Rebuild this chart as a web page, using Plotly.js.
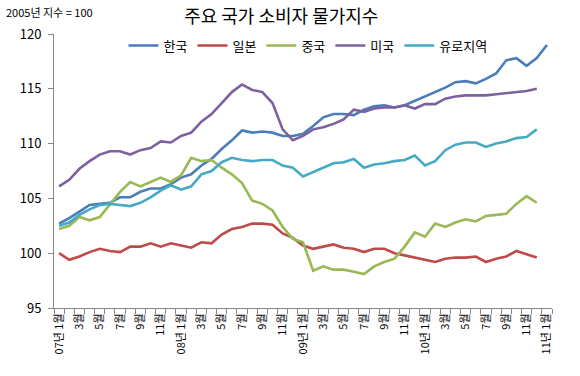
<!DOCTYPE html>
<html>
<head>
<meta charset="utf-8">
<script src="https://cdn.plot.ly/plotly-3.0.1.min.js"></script>
<style>html,body{margin:0;padding:0;background:#fff;}#chart{width:580px;height:376px;}</style>
</head>
<body>
<div id="chart"></div>
<script>
// Categories: monthly, 2007-01 .. 2011-01
const categories = [
  "2007-01","2007-02","2007-03","2007-04","2007-05","2007-06","2007-07","2007-08","2007-09","2007-10","2007-11","2007-12",
  "2008-01","2008-02","2008-03","2008-04","2008-05","2008-06","2008-07","2008-08","2008-09","2008-10","2008-11","2008-12",
  "2009-01","2009-02","2009-03","2009-04","2009-05","2009-06","2009-07","2009-08","2009-09","2009-10","2009-11","2009-12",
  "2010-01","2010-02","2010-03","2010-04","2010-05","2010-06","2010-07","2010-08","2010-09","2010-10","2010-11","2010-12",
  "2011-01"
];
const tickLabels = [
  "07년 1월","","3월","","5월","","7월","","9월","","11월","",
  "08년 1월","","3월","","5월","","7월","","9월","","11월","",
  "09년 1월","","3월","","5월","","7월","","9월","","11월","",
  "10년 1월","","3월","","5월","","7월","","9월","","11월","",
  "11년 1월"
];
const korea = [
  102.7,103.2,103.8,104.4,104.5,104.6,105.1,105.1,105.6,105.9,105.9,106.3,
  106.9,107.2,108.0,108.6,109.5,110.3,111.2,111.0,111.1,111.0,110.7,110.7,
  110.9,111.6,112.4,112.7,112.7,112.6,113.1,113.4,113.5,113.3,113.5,113.9,
  114.3,114.7,115.1,115.6,115.7,115.5,115.9,116.4,117.6,117.8,117.1,117.8,
  119.0
];
const japan = [
  100.0,99.4,99.7,100.1,100.4,100.2,100.1,100.6,100.6,100.9,100.6,100.9,
  100.7,100.5,101.0,100.9,101.7,102.2,102.4,102.7,102.7,102.6,101.8,101.4,
  100.7,100.4,100.6,100.8,100.5,100.4,100.1,100.4,100.4,100.0,99.8,99.6,
  99.4,99.2,99.5,99.6,99.6,99.7,99.2,99.5,99.7,100.2,99.9,99.6,
  null
];
const china = [
  102.2,102.5,103.3,103.0,103.3,104.5,105.6,106.5,106.1,106.5,106.9,106.5,
  107.1,108.7,108.4,108.5,107.8,107.2,106.4,104.8,104.5,103.9,102.4,101.3,
  101.0,98.4,98.8,98.5,98.5,98.3,98.1,98.8,99.2,99.5,100.6,101.9,
  101.5,102.7,102.4,102.8,103.1,102.9,103.4,103.5,103.6,104.5,105.2,104.6,
  null
];
const usa = [
  106.1,106.7,107.7,108.4,109.0,109.3,109.3,109.0,109.4,109.6,110.2,110.1,
  110.7,111.0,112.0,112.7,113.7,114.7,115.4,114.9,114.7,113.7,111.3,110.3,
  110.7,111.3,111.5,111.8,112.2,113.1,112.9,113.2,113.3,113.3,113.5,113.2,
  113.6,113.6,114.1,114.3,114.4,114.4,114.4,114.5,114.6,114.7,114.8,115.0,
  null
];
const euro = [
  102.5,102.8,103.5,104.0,104.4,104.5,104.4,104.3,104.6,105.1,105.7,106.2,
  105.8,106.1,107.2,107.5,108.3,108.7,108.5,108.4,108.5,108.5,108.0,107.8,
  107.0,107.4,107.8,108.2,108.3,108.6,107.8,108.1,108.2,108.4,108.5,108.9,
  108.0,108.4,109.4,109.9,110.1,110.1,109.7,110.0,110.2,110.5,110.6,111.3,
  null
];
const seriesNames = ["한국","일본","중국","미국","유로지역"];
const seriesData = [korea, japan, china, usa, euro];
const seriesColors = ["#4A7EBB","#BE4B48","#98B954","#7D60A0","#46AAC5"];

const FONT = "'Noto Sans CJK KR', 'Noto Sans', sans-serif";

const traces = seriesData.map((d, k) => ({
  type: "scatter",
  mode: "lines",
  name: seriesNames[k],
  x: categories,
  y: d,
  line: {color: seriesColors[k], width: 2.6},
  connectgaps: false,
  hoverinfo: "skip"
}));

const layout = {
  width: 580, height: 376,
  margin: {l: 54, r: 28, t: 34, b: 68, pad: 0},
  paper_bgcolor: "#fff", plot_bgcolor: "#fff",
  font: {family: FONT, size: 12, color: "#000"},
  title: {
    text: "주요 국가 소비자 물가지수",
    font: {family: FONT, size: 18, color: "#000"},
    x: 0.485, xref: "container", xanchor: "center",
    y: 0.955, yref: "container", yanchor: "middle"
  },
  showlegend: true,
  legend: {
    orientation: "h",
    x: 0.51, xanchor: "center",
    y: 0.958, yanchor: "middle",
    font: {family: FONT, size: 13, color: "#000"},
    bgcolor: "rgba(0,0,0,0)",
    itemwidth: 30, tracegroupgap: 0
  },
  xaxis: {
    type: "category",
    categoryorder: "array",
    categoryarray: categories,
    range: [-0.5, categories.length - 0.5],
    tickmode: "array",
    tickvals: categories,
    ticktext: tickLabels,
    tickson: "boundaries",
    ticks: "outside", ticklen: 5, tickcolor: "#868686", tickwidth: 1,
    tickangle: -90,
    tickfont: {family: FONT, size: 11, color: "#000"},
    showline: true, linecolor: "#868686", linewidth: 1,
    showgrid: false, zeroline: false, fixedrange: true
  },
  yaxis: {
    range: [95, 120],
    tickmode: "linear", tick0: 95, dtick: 5,
    ticks: "outside", ticklen: 5, tickcolor: "#868686", tickwidth: 1,
    ticklabelstandoff: 4,
    tickfont: {family: FONT, size: 13, color: "#000"},
    showline: true, linecolor: "#868686", linewidth: 1,
    showgrid: false, zeroline: false, fixedrange: true
  },
  annotations: [{
    text: "2005년 지수 = 100",
    xref: "paper", yref: "paper",
    x: -0.1, xanchor: "left",
    y: 1.08, yanchor: "middle",
    showarrow: false,
    font: {family: FONT, size: 11, color: "#000"}
  }]
};

Plotly.newPlot("chart", traces, layout, {staticPlot: true, displayModeBar: false});
</script>
</body>
</html>
